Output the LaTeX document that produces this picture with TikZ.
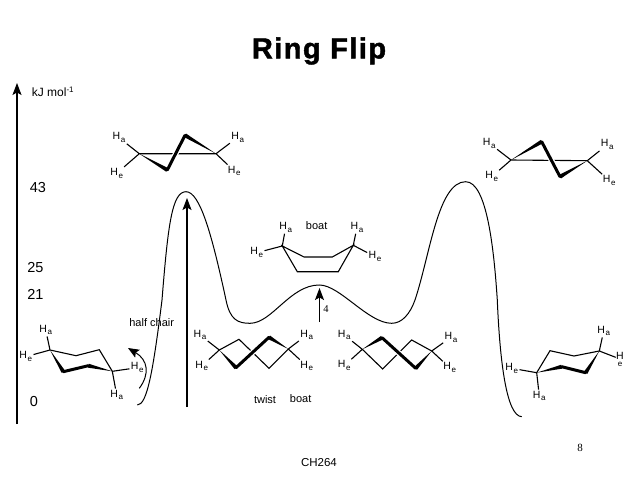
\documentclass[tikz,border=0pt]{standalone}
\usepackage{fontspec}
\setmainfont{Liberation Sans}
\newfontfamily\titlefont[FakeBold=1.5,LetterSpace=5]{Liberation Sans Bold}
\usetikzlibrary{calc,arrows.meta}
\newcommand{\wedgebond}[2]{\fill ($(#2)!2pt!90:(#1)$) -- (#1) -- ($(#2)!2pt!-90:(#1)$) -- cycle;}
\newcommand{\Hlab}[1]{H\kern0.6pt\raisebox{-2.6pt}{\fontsize{8}{8}\selectfont #1}}
\begin{document}
\begin{tikzpicture}[
  x=1pt, y=-1pt,
  line width = 1pt,
  lab/.style={inner sep=1pt, font=\fontsize{10.5}{12}\selectfont},
  small/.style={inner sep=0pt, font=\fontsize{11}{13}\selectfont},
  value/.style={inner sep=0pt, font=\fontsize{14.5}{16}\selectfont},
  thin bond/.style={line width=1.1pt},
  thick bond/.style={line width=3pt, line cap=round},
  halo/.style={white, line width=5.5pt, shorten >=5pt, shorten <=5pt},
  up arrow/.style={-{Stealth[length=12pt,width=9pt,inset=2.5pt]}, line width=1.2pt}]
\useasboundingbox (0,0) rectangle (638,479);
\node[inner sep=0pt, font=\fontsize{29}{32}\selectfont\titlefont] (title) at (319,51) {Ring Flip};

% axis
\coordinate (axis0) at (17,424);
\coordinate (axis1) at (17,83);
\draw[up arrow] (axis0) -- (axis1);
\node[small, font=\fontsize{12}{14}\selectfont] (unit) at (53,92) {kJ mol\textsuperscript{-1}};
\node[value] (v43) at (38,188) {43};
\node[value] (v25) at (35.5,268) {25};
\node[value] (v21) at (35.5,294) {21};
\node[value] (v0) at (34,402) {0};

% energy curve
\draw[line width=1pt] (137.3,405) .. controls (147,405) and (153,372) .. (162,300)
  .. controls (168,225) and (172,191.7) .. (186,191.7)
  .. controls (200,191.7) and (212,235) .. (226,300)
  .. controls (230,320) and (238,323.3) .. (250,323.3)
  .. controls (272,323.3) and (290,285) .. (319.3,285)
  .. controls (340,285) and (368,323.3) .. (391.7,323.3)
  .. controls (402,323.3) and (410,314) .. (415,300)
  .. controls (430,255) and (438,181.7) .. (465.7,181.7)
  .. controls (487,181.7) and (494,250) .. (497.3,300)
  .. controls (500,365) and (507,416) .. (521.7,416.7);

% barrier arrows
\coordinate (big0) at (187,407);
\coordinate (big1) at (187,198);
\draw[up arrow] (big0) -- (big1);
\coordinate (small0) at (319.5,322);
\coordinate (small1) at (319.5,288);
\draw[up arrow] (small0) -- (small1);
\node[small, font=\fontsize{10.5}{12}\selectfont\fontspec{Liberation Serif}] (four) at (326,309) {4};
\coordinate (flip0) at (139.3,388.3);
\coordinate (flip1) at (128,348);
\draw[-{Stealth[length=11pt,width=9pt,inset=2pt]}] (flip0) .. controls (150,374) and (148,360) .. (flip1);

\node[small] (halfchair) at (151.7,322.3) {half chair};
\node[small] (boat) at (316.7,225.7) {boat};
\node[small] (twist) at (265,399.3) {twist};
\node[small] (boat2) at (300.7,398.3) {boat};
\node[small, font=\fontsize{11.5}{13}\selectfont] (course) at (319,463) {CH264};
\node[small, font=\fontsize{11}{13}\selectfont\fontspec{Liberation Serif}] (page) at (580,448) {8};

% left chair
\coordinate (a1) at (50,350);
\coordinate (a2) at (76,355.7);
\coordinate (a3) at (99.3,349.7);
\coordinate (a4) at (112.3,371.3);
\coordinate (a5) at (88.3,365.7);
\coordinate (a6) at (63.3,371.7);
\node[lab] (aH1) at (45.7,330) {\Hlab{a}};
\node[lab] (aH2) at (25.7,356.7) {\Hlab{e}};
\node[lab] (aH3) at (137.3,367.7) {\Hlab{e}};
\node[lab] (aH4) at (116.7,395) {\Hlab{a}};
\draw[thin bond] (a1) -- (a2) -- (a3) -- (a4) (a1) -- (aH1) (a1) -- (aH2) (a4) -- (aH3) (a4) -- (aH4);
\wedgebond{a1}{a6}
\wedgebond{a4}{a5}
\draw[thick bond] (a5) -- (a6);

% left half chair
\coordinate (b1) at (139.3,153.7);
\coordinate (b2) at (167.3,170);
\coordinate (b3) at (185,135.3);
\coordinate (b4) at (216,153.7);
\node[lab] (bH1) at (119,137.7) {\Hlab{a}};
\node[lab] (bH2) at (116.7,173.3) {\Hlab{e}};
\node[lab] (bH3) at (237.7,137.3) {\Hlab{a}};
\node[lab] (bH4) at (234.3,171) {\Hlab{e}};
\draw[thin bond] (b1) -- (b4) (b1) -- (bH1) (b1) -- (bH2) (b4) -- (bH3) (b4) -- (bH4);
\draw[halo] (b2) -- (b3);
\draw[thick bond] (b2) -- (b3);
\wedgebond{b1}{b2}
\wedgebond{b4}{b3}

% boat
\coordinate (c1) at (282.3,246);
\coordinate (c2) at (304,257);
\coordinate (c3) at (332.3,257);
\coordinate (c4) at (353.3,245.3);
\coordinate (c5) at (338.3,271.7);
\coordinate (c6) at (297.3,271.7);
\node[lab] (cH1) at (285.7,227.3) {\Hlab{a}};
\node[lab] (cH2) at (256.7,252.7) {\Hlab{e}};
\node[lab] (cH3) at (357,227.3) {\Hlab{a}};
\node[lab] (cH4) at (375,256.7) {\Hlab{e}};
\draw[thin bond] (c1) -- (c2) -- (c3) -- (c4) -- (c5) -- (c6) -- cycle
  (c1) -- (cH1) (c1) -- (cH2) (c4) -- (cH3) (c4) -- (cH4);

% left twist boat
\coordinate (d1) at (219.3,350);
\coordinate (d2) at (239,339.3);
\coordinate (d3) at (269,368.3);
\coordinate (d4) at (288.3,349);
\coordinate (d5) at (269,337.3);
\coordinate (d6) at (236,367.7);
\node[lab] (dH1) at (200,335) {\Hlab{a}};
\node[lab] (dH2) at (201.7,366) {\Hlab{e}};
\node[lab] (dH3) at (306.7,335) {\Hlab{a}};
\node[lab] (dH4) at (306.7,366) {\Hlab{e}};
\draw[thin bond] (d1) -- (d2) -- (d3) -- (d4) (d1) -- (dH1) (d1) -- (dH2) (d4) -- (dH3) (d4) -- (dH4);
\draw[halo] (d6) -- (d5);
\draw[thick bond] (d6) -- (d5);
\wedgebond{d1}{d6}
\wedgebond{d4}{d5}

% right twist boat
\coordinate (e1) at (362.3,349.3);
\coordinate (e2) at (382,337.7);
\coordinate (e3) at (415.7,368.3);
\coordinate (e4) at (431.7,351);
\coordinate (e5) at (411.7,340);
\coordinate (e6) at (382.7,369);
\node[lab] (eH1) at (344.3,335) {\Hlab{a}};
\node[lab] (eH2) at (344.3,365.7) {\Hlab{e}};
\node[lab] (eH3) at (451,337.3) {\Hlab{a}};
\node[lab] (eH4) at (449.7,367.7) {\Hlab{e}};
\draw[thin bond] (e1) -- (e6) -- (e5) -- (e4) (e1) -- (eH1) (e1) -- (eH2) (e4) -- (eH3) (e4) -- (eH4);
\draw[halo] (e2) -- (e3);
\draw[thick bond] (e2) -- (e3);
\wedgebond{e1}{e2}
\wedgebond{e4}{e3}

% right half chair
\coordinate (f1) at (511,160);
\coordinate (f2) at (541.7,141.7);
\coordinate (f3) at (560,176.7);
\coordinate (f4) at (587.3,160.7);
\node[lab] (fH1) at (489.3,143.3) {\Hlab{a}};
\node[lab] (fH2) at (491.7,176.7) {\Hlab{e}};
\node[lab] (fH3) at (607.3,144.7) {\Hlab{a}};
\node[lab] (fH4) at (609.3,180.7) {\Hlab{e}};
\draw[thin bond] (f1) -- (f4) (f1) -- (fH1) (f1) -- (fH2) (f4) -- (fH3) (f4) -- (fH4);
\draw[halo] (f2) -- (f3);
\draw[thick bond] (f2) -- (f3);
\wedgebond{f1}{f2}
\wedgebond{f4}{f3}

% right chair
\coordinate (g1) at (536.7,372.7);
\coordinate (g2) at (561.7,366.7);
\coordinate (g3) at (585.7,372.7);
\coordinate (g4) at (599.3,351);
\coordinate (g5) at (574,356);
\coordinate (g6) at (550,350.7);
\node[lab] (gH1) at (603.7,331) {\Hlab{a}};
\node[lab, align=center, inner sep=0pt] (gH2) at (620,359) {H\\[-5pt]\fontsize{8}{8}\selectfont e};
\node[lab] (gH3) at (511.7,368.3) {\Hlab{e}};
\node[lab] (gH4) at (539.3,396) {\Hlab{a}};
\draw[thin bond] (g1) -- (g6) -- (g5) -- (g4) (g4) -- (gH1) (g4) -- (gH2) (g1) -- (gH3) (g1) -- (gH4);
\wedgebond{g1}{g2}
\wedgebond{g4}{g3}
\draw[thick bond] (g2) -- (g3);
\end{tikzpicture}
\end{document}
